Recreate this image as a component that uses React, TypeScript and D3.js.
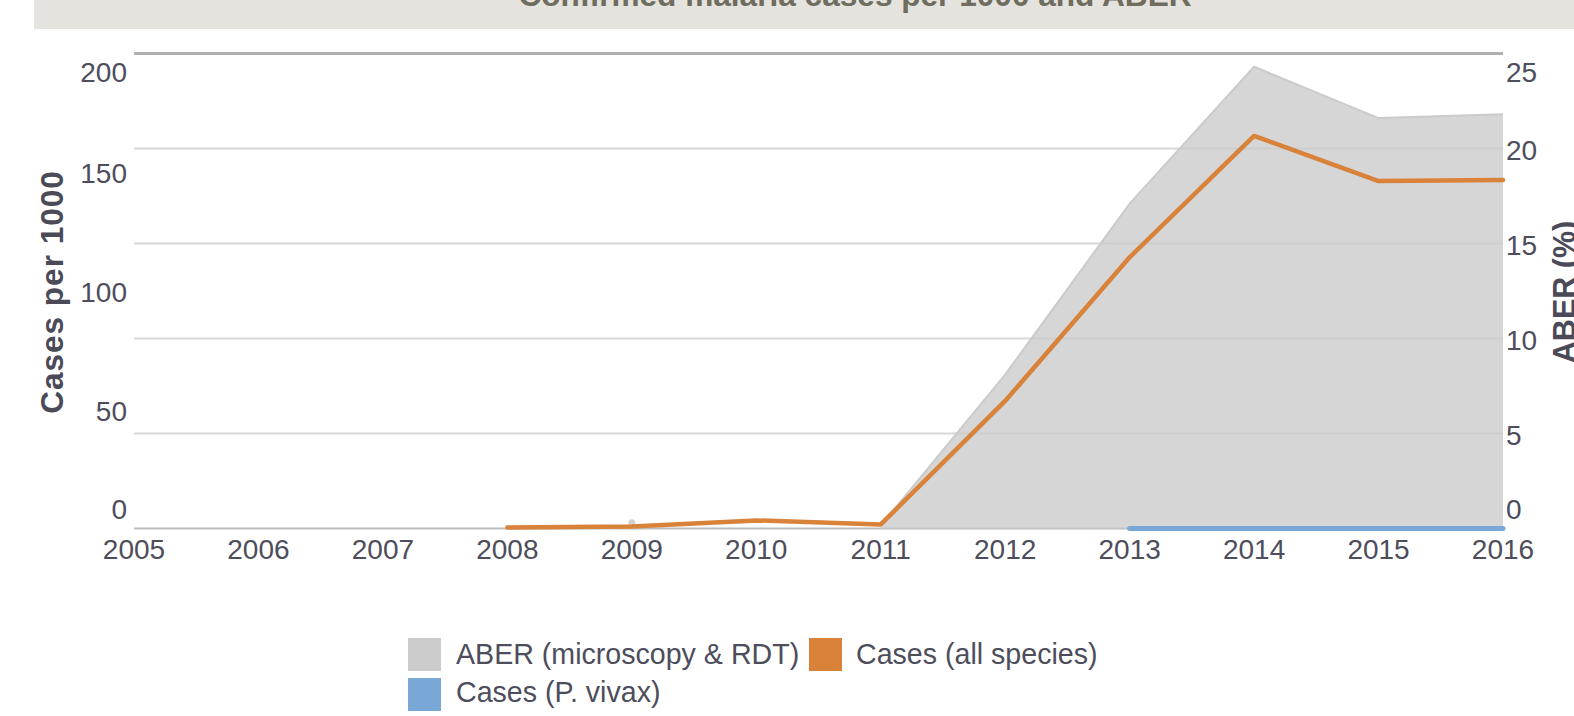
import React from "react";
import * as d3 from "d3";

const years = [2005, 2006, 2007, 2008, 2009, 2010, 2011, 2012, 2013, 2014, 2015, 2016];
const casesAll: (number | null)[] = [null, null, null, 0.4, 0.8, 3.4, 1.7, 53.7, 114.2, 165.3, 146.3, 146.7];
const casesVivax: (number | null)[] = [null, null, null, null, null, null, null, null, 0, 0, 0, 0];
const aber: (number | null)[] = [null, null, null, null, 0.2, null, 0.15, 8.1, 17.1, 24.3, 21.6, 21.8];
const leftTicks = [0, 50, 100, 150, 200];
const rightTicks = [0, 5, 10, 15, 20, 25];
const title = "Confirmed malaria cases per 1000 and ABER";
const leftTitle = "Cases per 1000";
const rightTitle = "ABER (%)";
const legendItems = [
  { label: "ABER (microscopy & RDT)", color: "#cccccc" },
  { label: "Cases (all species)", color: "#d9823a" },
  { label: "Cases (P. vivax)", color: "#7aa8d6" },
];

const W = 1574;
const H = 716;
const FONT = "'Liberation Sans', Arial, Helvetica, sans-serif";
const TXT = "#4d4d5c";

export default function App() {
  const x = d3.scaleLinear().domain([2005, 2016]).range([134, 1503]);
  const yL = d3.scaleLinear().domain([0, 200]).range([528.5, 53.5]);
  const yR = d3.scaleLinear().domain([0, 25]).range([528.5, 53.5]);

  const aberPts = years.map((yr, i) => ({ yr, v: aber[i] }));
  const allPts = years.map((yr, i) => ({ yr, v: casesAll[i] }));
  const vivPts = years.map((yr, i) => ({ yr, v: casesVivax[i] }));

  const area = d3
    .area<{ yr: number; v: number | null }>()
    .defined((d) => d.v != null)
    .x((d) => x(d.yr))
    .y0(yR(0))
    .y1((d) => yR(d.v as number));
  const aberLine = d3
    .line<{ yr: number; v: number | null }>()
    .defined((d) => d.v != null)
    .x((d) => x(d.yr))
    .y((d) => yR(d.v as number));
  const leftLine = d3
    .line<{ yr: number; v: number | null }>()
    .defined((d) => d.v != null)
    .x((d) => x(d.yr))
    .y((d) => yL(d.v as number));

  const isolated = aberPts.filter(
    (d, i) => d.v != null && (i === 0 || aber[i - 1] == null) && (i === aber.length - 1 || aber[i + 1] == null)
  );

  const labelY = (yv: number, first: boolean, last: boolean) => {
    if (first) return 519;
    if (last) return 82;
    return yv + 11;
  };

  return (
    <svg
      width={W}
      height={H}
      style={{ position: "absolute", left: 0, top: 0, display: "block", background: "#ffffff" }}
      fontFamily={FONT}
    >
      <rect x={34} y={0} width={W - 34} height={29} fill="#e4e3de" />
      <text x={855} y={6} textAnchor="middle" fontSize={31.6} fontWeight="bold" fill="#6f6d5f">
        {title}
      </text>

      {/* gridlines (right axis) */}
      {rightTicks.map((t, i) => (
        <line
          key={"g" + t}
          x1={x(2005)}
          x2={x(2016)}
          y1={yR(t)}
          y2={yR(t)}
          stroke={i === rightTicks.length - 1 ? "#b0b0b0" : i === 0 ? "#bdbdbd" : "#d8d8d8"}
          strokeWidth={i === rightTicks.length - 1 ? 3 : 2}
        />
      ))}

      {/* ABER area */}
      <path d={area(aberPts) || ""} fill="#cccccc" fillOpacity={0.8} />
      <path d={aberLine(aberPts) || ""} fill="none" stroke="#cbcbcb" strokeWidth={2} />
      {isolated.map((d) => (
        <circle key={"iso" + d.yr} cx={x(d.yr)} cy={yR(d.v as number) - 2} r={3.5} fill="#d0d0d0" />
      ))}

      {/* Cases lines */}
      <path
        d={leftLine(vivPts) || ""}
        fill="none"
        stroke="#7aa8d6"
        strokeWidth={5}
        strokeLinecap="round"
      />
      <path
        d={leftLine(allPts) || ""}
        fill="none"
        stroke="#d9823a"
        strokeWidth={4.5}
        strokeLinecap="round"
        strokeLinejoin="round"
      />

      {/* left axis labels */}
      {leftTicks.map((t, i) => (
        <text
          key={"l" + t}
          x={127}
          y={labelY(yL(t), i === 0, i === leftTicks.length - 1)}
          textAnchor="end"
          fontSize={28}
          fill={TXT}
        >
          {t}
        </text>
      ))}
      {/* right axis labels */}
      {rightTicks.map((t, i) => (
        <text
          key={"r" + t}
          x={1506}
          y={labelY(yR(t), i === 0, i === rightTicks.length - 1)}
          textAnchor="start"
          fontSize={28}
          fill={TXT}
        >
          {t}
        </text>
      ))}
      {/* x axis labels */}
      {years.map((yr) => (
        <text key={"x" + yr} x={x(yr)} y={559} textAnchor="middle" fontSize={28} fill={TXT}>
          {yr}
        </text>
      ))}

      {/* axis titles */}
      <text
        transform="translate(63,292) rotate(-90)"
        textAnchor="middle"
        fontSize={31.5}
        fontWeight="bold"
        letterSpacing={1}
        fill="#4a4a58"
      >
        {leftTitle}
      </text>
      <text
        transform="translate(1575,292) rotate(-90)"
        textAnchor="middle"
        fontSize={30.5}
        fontWeight="bold"
        fill="#4a4a58"
      >
        {rightTitle}
      </text>

      {/* legend */}
      <rect x={408} y={638} width={33} height={33} fill={legendItems[0].color} />
      <text x={456} y={664} fontSize={28.6} fill={TXT}>
        {legendItems[0].label}
      </text>
      <rect x={809} y={638} width={33} height={33} fill={legendItems[1].color} />
      <text x={856} y={664} fontSize={28.6} fill={TXT}>
        {legendItems[1].label}
      </text>
      <rect x={408} y={678} width={33} height={33} fill={legendItems[2].color} />
      <text x={456} y={702} fontSize={28.6} fill={TXT}>
        {legendItems[2].label}
      </text>
    </svg>
  );
}
